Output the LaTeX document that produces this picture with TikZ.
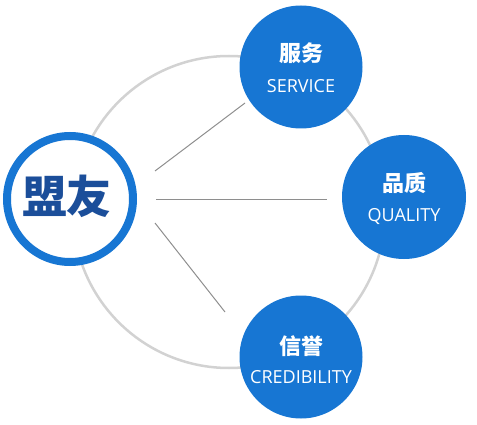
\documentclass[tikz,border=0pt]{standalone}
\usepackage{fontspec}
\newfontfamily\cjk{Noto Sans CJK SC}
\newfontfamily\latin{Open Sans}
\usetikzlibrary{positioning,calc}
\definecolor{dotblue}{HTML}{1776D3}
\definecolor{inkblue}{HTML}{1B4E9A}
\definecolor{ringgray}{HTML}{D2D2D2}
\definecolor{spokegray}{HTML}{8E8E8E}
\tikzset{
  bluedot/.style={circle,fill=dotblue,inner sep=0pt,minimum size=123pt},
  cnlabel/.style={anchor=base,inner sep=0pt,text=white,font=\cjk\bfseries\fontsize{22}{22}\selectfont},
  enlabel/.style={anchor=base,inner sep=0pt,text=white,font=\latin\fontsize{18}{18}\selectfont},
  spoke/.style={draw=spokegray,line width=1pt}
}
\begin{document}
\begin{tikzpicture}[x=1pt,y=-1pt]
	\useasboundingbox (0,0) rectangle (477,425);
	% big ring behind everything
	\draw[ringgray,line width=2.5pt] (229,212) circle (156);
	
	\node[circle,draw=dotblue,line width=8pt,fill=white,minimum size=126pt,inner sep=0pt] (meng) at (70,199) {};
	\node[inner sep=0pt,text=inkblue,font=\cjk\bfseries\fontsize{45}{45}\selectfont] (mengtxt) at (67,196) {盟友};
	
	\node[bluedot] (service) at (301,67) {};
	\node[bluedot,minimum size=124pt] (quality) at (404,197) {};
	\node[bluedot] (credit) at (301,357) {};
	
	\node[cnlabel] (servicecn) at ($(service)+(0,-5)$) {服务};
	\node[enlabel] (serviceen) at ($(service)+(0,25.5)$) {SERVICE};
	\node[cnlabel] (qualitycn) at ($(quality)+(0,-5)$) {品质};
	\node[enlabel] (qualityen) at ($(quality)+(0,24.5)$) {QUALITY};
	\node[cnlabel] (creditcn) at ($(credit)+(0,-3)$) {信誉};
	\node[enlabel] (crediten) at ($(credit)+(0,26.5)$) {CREDIBILITY};
	
	% spokes
	\coordinate (s1a) at (155,171);
	\coordinate (s1b) at (245,103);
	\coordinate (s2a) at (156,200);
	\coordinate (s2b) at (327,200);
	\coordinate (s3a) at (155,223);
	\coordinate (s3b) at (225,312);
	\draw[spoke] (s1a) -- (s1b);
	\draw[spoke] (s2a) -- (s2b);
	\draw[spoke] (s3a) -- (s3b);
\end{tikzpicture}
\end{document}
